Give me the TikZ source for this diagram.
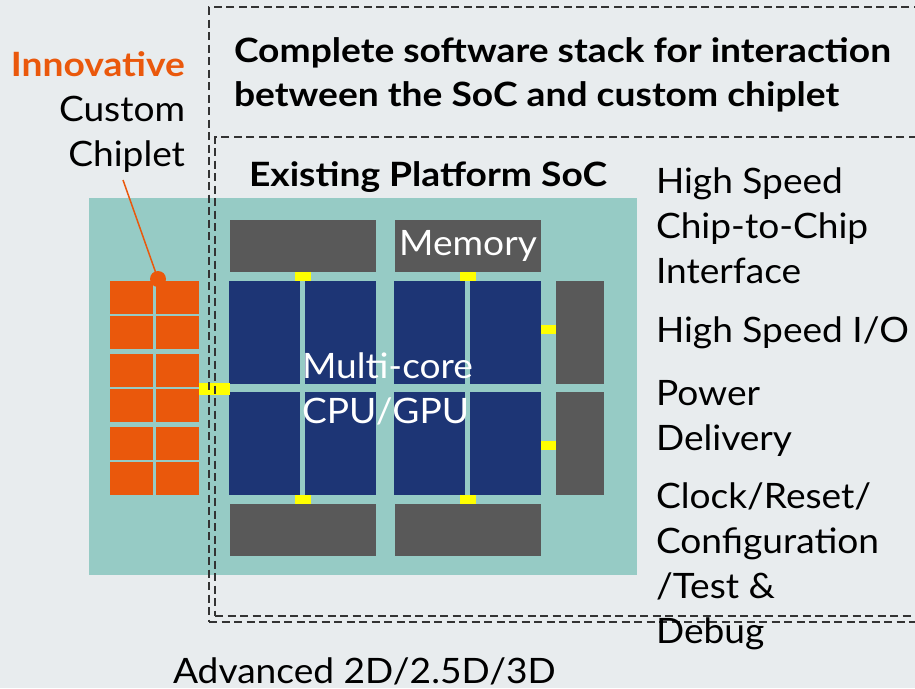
\documentclass[tikz,border=0pt]{standalone}
\usepackage{fontspec}
\setmainfont{Lato}[FakeStretch=1.06, BoldFeatures={FakeStretch=1.11}]
\usetikzlibrary{positioning}
\definecolor{bgGray}{HTML}{E8ECEE}
\definecolor{socTeal}{HTML}{96CBC5}
\definecolor{coreBlue}{HTML}{1D3575}
\definecolor{blockGray}{HTML}{595959}
\definecolor{chipOrange}{HTML}{EA580C}
\definecolor{phyYellow}{HTML}{FFFF00}
\definecolor{frameGray}{HTML}{333333}

\begin{document}
\begin{tikzpicture}[x=1pt, y=-1pt,
    box/.style={inner sep=0pt, outer sep=0pt, anchor=north west},
    core/.style={box, fill=coreBlue, minimum width=71pt, minimum height=103pt},
    block/.style={box, fill=blockGray, minimum width=146pt, minimum height=52pt},
    iocell/.style={box, fill=blockGray, minimum width=48pt, minimum height=103pt},
    cell/.style={box, fill=chipOrange, minimum width=43pt, minimum height=33pt},
    phy/.style={box, fill=phyYellow, minimum width=16pt, minimum height=9pt},
    frame/.style={box, draw=frameGray, line width=1.8pt, dash pattern=on 8pt off 4.5pt},
    txt/.style={inner sep=0pt, outer sep=0pt, align=left, font=\fontsize{35}{45}\selectfont},
    title/.style={txt, font=\bfseries\fontsize{33.5}{44}\selectfont}
]
    \useasboundingbox (0,0) rectangle (915,688);
    \clip (0,0) rectangle (915,688);
    \fill[bgGray] (0,0) rectangle (915,688);

    % SoC package
    \node[box, fill=socTeal, minimum width=548pt, minimum height=377pt] (soc) at (89,198) {};

    % Custom chiplet
    \foreach \r/\y in {1/281,2/316,3/354,4/389,5/427,6/462} {
        \node[cell] (cellA\r) at (110,\y) {};
        \node[cell, right=3pt of cellA\r] (cellB\r) {};
    }

    % Cores
    \node[core] (core11) at (229,281) {};
    \node[core, right=5pt of core11] (core12) {};
    \node[core, right=18pt of core12] (core13) {};
    \node[core, right=5pt of core13] (core14) {};
    \node[core, below=8pt of core11] (core21) {};
    \node[core, below=8pt of core12] (core22) {};
    \node[core, below=8pt of core13] (core23) {};
    \node[core, below=8pt of core14] (core24) {};

    % Memory and I/O blocks
    \node[block] (memL) at (230,220) {};
    \node[block, text=white, font=\fontsize{35}{45}\selectfont] (memR) at (395,220) {Memory};
    \node[block] (botL) at (230,504) {};
    \node[block] (botR) at (395,504) {};
    \node[iocell] (ioTop) at (556,281) {};
    \node[iocell, below=8pt of ioTop] (ioBot) {};

    % Interface pads
    \node[phy, minimum width=31pt, minimum height=12pt] (phyChip) at (199,383) {};
    \node[phy] (phyMemL) at (295,272) {};
    \node[phy] (phyMemR) at (460,272) {};
    \node[phy] (phyBotL) at (295,495) {};
    \node[phy] (phyBotR) at (460,495) {};
    \node[phy, minimum width=15pt] (phyIoTop) at (541,325) {};
    \node[phy, minimum width=15pt] (phyIoBot) at (541,441) {};

    % Dashed frames
    \node[frame, minimum width=730pt, minimum height=615pt] (stackFrame) at (209,7) {};
    \node[frame, minimum width=730pt, minimum height=479pt] (socFrame) at (215,137) {};

    % Labels
    \node[title, anchor=north west] (stackLbl) at (234,38)
        {Complete software stack for interaction\\between the SoC and custom chiplet};
    \node[title, anchor=base west] (socLbl) at (249,186) {Existing Platform SoC};
    \node[txt, anchor=north east, align=right] (chipLbl) at (185,52)
        {\textcolor{chipOrange}{\bfseries\fontsize{33.5}{45}\selectfont Innovative}\\Custom\\Chiplet};
    \node[txt, anchor=north west, text=white] (cpuLbl) at (302,353) {Multi-core\\CPU/GPU};
    \node[txt, anchor=north west] (linkLbl) at (656,168) {High Speed\\Chip-to-Chip\\Interface};
    \node[txt, anchor=base west] (ioLbl) at (656,342) {High Speed I/O};
    \node[txt, anchor=north west] (pwrLbl) at (656,380) {Power\\Delivery};
    \node[txt, anchor=north west] (clkLbl) at (656,483) {Clock/Reset/\\Configuration\\/Test \&\\Debug};
    \node[txt, anchor=base west] (pkgLbl) at (173,683) {Advanced 2D/2.5D/3D};

    % Leader to chiplet
    \coordinate (leadStart) at (123,180);
    \draw[chipOrange, line width=1.5pt] (leadStart) -- (158,279);
    \node[circle, fill=chipOrange, minimum size=16pt, inner sep=0pt] (chipDot) at (158,279) {};
\end{tikzpicture}
\end{document}
